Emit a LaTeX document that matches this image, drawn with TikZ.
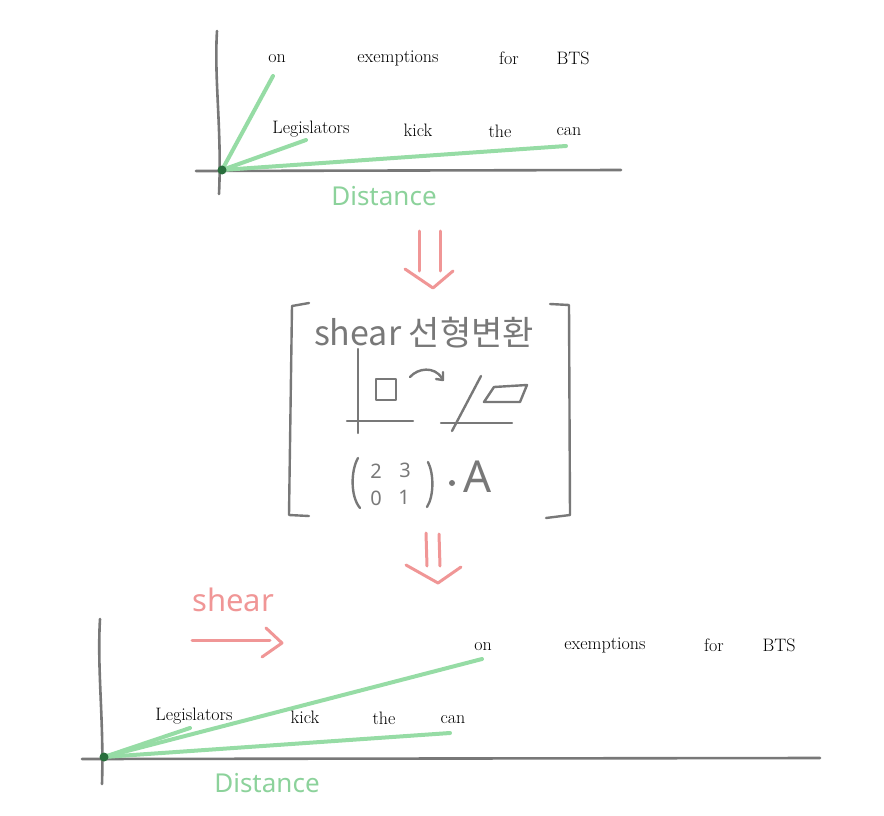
\documentclass[tikz,border=0pt]{standalone}
\usepackage{fontspec}
\newfontfamily\krfont{Noto Sans CJK KR}
\newfontfamily\handfont{Noto Sans}
\definecolor{axisgray}{RGB}{120,120,120}
\definecolor{vecgreen}{RGB}{150,220,165}
\definecolor{dotgreen}{RGB}{40,110,60}
\definecolor{pinkred}{RGB}{240,150,150}
\definecolor{handgreen}{RGB}{140,210,155}
\begin{document}
\begin{tikzpicture}[x=1pt,y=-1pt,
  axis/.style={draw=axisgray,line width=2.6pt,line cap=round},
  vec/.style={draw=vecgreen,line width=4pt,line cap=round},
  word/.style={font=\fontsize{18}{21}\selectfont,inner sep=0pt},
  pinkstroke/.style={draw=pinkred,line width=3pt,line cap=round,line join=round},
  graystroke/.style={draw=axisgray,line width=2.4pt,line cap=round,line join=round},
  digit/.style={text=axisgray,font=\handfont\fontsize{20}{22}\selectfont,inner sep=0pt},
  dist/.style={text=handgreen,font=\handfont\fontsize{26}{28}\selectfont,inner sep=0pt}]
\useasboundingbox (0,0) rectangle (884,816);

% ---------- top panel ----------
\coordinate (tyT) at (217,31);
\coordinate (tyB) at (219,194);
\coordinate (txL) at (196,171);
\coordinate (txR) at (621,170);
\coordinate (tO) at (222,170);
\draw[axis] (tyT) .. controls (214,80) and (222,130) .. (tyB);
\draw[axis] (txL) -- (txR);
\coordinate (tOnEnd) at (273,76);
\coordinate (tLegEnd) at (306,140);
\coordinate (tCanEnd) at (566,146);
\draw[vec] (tO) -- (tOnEnd);
\draw[vec] (tO) -- (tLegEnd);
\draw[vec] (tO) -- (tCanEnd);
\fill[dotgreen] (tO) circle (4.5pt);
\node[word] (tOn) at (277,59) {on};
\node[word] (tEx) at (398,58) {exemptions};
\node[word] (tFor) at (509,58) {for};
\node[word] (tBTS) at (573,58) {BTS};
\node[word] (tLeg) at (311,129) {Legislators};
\node[word] (tKick) at (418,130) {kick};
\node[word] (tThe) at (500,131) {the};
\node[word] (tCan) at (569,132) {can};
\node[dist] (tDist) at (384,196) {Distance};

% ---------- first down arrow ----------
\coordinate (a1l1) at (419,231);
\coordinate (a1l2) at (419,271);
\coordinate (a1r1) at (440,231);
\coordinate (a1r2) at (440,271);
\coordinate (a1p1) at (405,269);
\coordinate (a1p2) at (433,288);
\coordinate (a1p3) at (453,271);
\draw[pinkstroke] (a1l1) -- (a1l2);
\draw[pinkstroke] (a1r1) -- (a1r2);
\draw[pinkstroke] (a1p1) -- (a1p2) -- (a1p3);

% ---------- middle box ----------
\draw[graystroke] (309,303) -- (292,306) -- (289,515) -- (309,516);
\draw[graystroke] (550,304) -- (569,305) -- (570,515) -- (546,518);
\node[text=axisgray,font=\krfont\fontsize{34}{36}\selectfont,inner sep=0pt] (title) at (424,333) {shear 선형변환};
% left mini sketch
\draw[graystroke] (358,349) -- (358,433);
\draw[graystroke] (347,421) -- (413,421);
\draw[graystroke] (376,379) rectangle (396,400);
\coordinate (cA) at (410,377);
\coordinate (cB) at (442,378);
\draw[graystroke] (cA) .. controls (418,368) and (434,366) .. (cB);
\draw[graystroke] (436,379) -- (443,380) -- (443,372);
% right mini sketch
\draw[graystroke] (452,431) -- (481,376);
\draw[graystroke] (441,423) -- (512,423);
\draw[graystroke] (494,387) -- (527,385) -- (520,402) -- (484,402) -- cycle;
% matrix
\draw[graystroke] (358,458) .. controls (351,470) and (350,496) .. (360,508);
\draw[graystroke] (428,462) .. controls (434,474) and (434,496) .. (427,507);
\node[digit] (m11) at (376,471) {2};
\node[digit] (m12) at (405,470) {3};
\node[digit] (m21) at (376,498) {0};
\node[digit] (m22) at (404,497) {1};
\fill[axisgray] (452,483) circle (3pt);
\node[text=axisgray,font=\handfont\fontsize{44}{46}\selectfont,inner sep=0pt] (matA) at (478,477) {A};

% ---------- second down arrow ----------
\coordinate (a2l1) at (426,533);
\coordinate (a2l2) at (427,566);
\coordinate (a2r1) at (439,534);
\coordinate (a2r2) at (440,566);
\coordinate (a2p1) at (406,565);
\coordinate (a2p2) at (438,583);
\coordinate (a2p3) at (461,567);
\draw[pinkstroke] (a2l1) -- (a2l2);
\draw[pinkstroke] (a2r1) -- (a2r2);
\draw[pinkstroke] (a2p1) -- (a2p2) -- (a2p3);

% ---------- bottom panel ----------
\node[text=pinkred,font=\handfont\fontsize{31}{33}\selectfont,inner sep=0pt] (shearlbl) at (233,600) {shear};
\coordinate (sa1) at (192,640);
\coordinate (sa2) at (270,640);
\draw[pinkstroke] (sa1) -- (sa2);
\draw[pinkstroke] (266,628) -- (282,643) -- (262,657);

\coordinate (byT) at (100,619);
\coordinate (byB) at (102,784);
\coordinate (bxL) at (82,759);
\coordinate (bxR) at (820,758);
\coordinate (bO) at (104,757);
\draw[axis] (byT) .. controls (97,670) and (104,720) .. (byB);
\draw[axis] (bxL) -- (bxR);
\coordinate (bOnEnd) at (482,659);
\coordinate (bLegEnd) at (190,728);
\coordinate (bCanEnd) at (450,733);
\draw[vec] (bO) -- (bOnEnd);
\draw[vec] (bO) -- (bLegEnd);
\draw[vec] (bO) -- (bCanEnd);
\fill[dotgreen] (bO) circle (4.5pt);
\node[word] (bLeg) at (194,716) {Legislators};
\node[word] (bKick) at (305,717) {kick};
\node[word] (bThe) at (384,718) {the};
\node[word] (bCan) at (453,720) {can};
\node[word] (bOn) at (483,647) {on};
\node[word] (bEx) at (605,645) {exemptions};
\node[word] (bFor) at (714,645) {for};
\node[word] (bBTS) at (779,645) {BTS};
\node[dist] (bDist) at (267,783) {Distance};
\end{tikzpicture}
\end{document}
